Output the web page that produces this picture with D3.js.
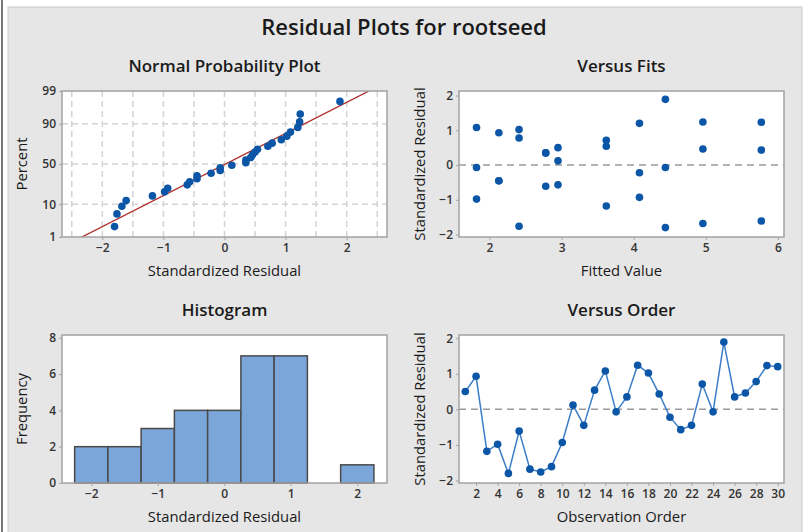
<!DOCTYPE html>
<html>
<head>
<meta charset="utf-8">
<script src="https://cdn.jsdelivr.net/npm/d3@7"></script>
<style>
html,body{margin:0;padding:0;background:#fff;}
svg{display:block;}
text{font-family:"Open Sans","Noto Sans",sans-serif;}
</style>
</head>
<body>
<svg id="chart" width="806" height="532"></svg>
<script>
// ---------------- data ----------------
const mainTitle = "Residual Plots for rootseed";
const panelTitles = ["Normal Probability Plot", "Versus Fits", "Histogram", "Versus Order"];
// standardized residuals, in observation order 1..30
const residuals = [0.50, 0.93, -1.18, -0.98, -1.80, -0.61, -1.68, -1.76, -1.61, -0.93,
                   0.12, -0.45, 0.54, 1.08, -0.07, 0.35, 1.24, 1.02, 0.43, -0.22,
                   -0.57, -0.45, 0.71, -0.07, 1.89, 0.35, 0.46, 0.78, 1.23, 1.20];
// fitted values, in observation order 1..30
const fitted = [2.95, 2.13, 3.62, 1.82, 4.44, 2.78, 4.96, 2.41, 5.77, 4.08,
                2.95, 2.13, 3.62, 1.82, 1.82, 2.78, 4.96, 2.41, 5.77, 4.08,
                2.95, 2.13, 3.62, 4.44, 4.44, 2.78, 4.96, 2.41, 5.77, 4.08];
const percentTicks = [1, 10, 50, 90, 99];
const percentGrid = [10, 50, 90];
const normXTicks = [-2, -1, 0, 1, 2];
const normXGrid = [-2.5, -2, -1.5, -1, -0.5, 0, 0.5, 1, 1.5, 2, 2.5];
const fitsXTicks = [2, 3, 4, 5, 6];
const residTicks = [-2, -1, 0, 1, 2];
const histThresholds = [-2.25, -1.75, -1.25, -0.75, -0.25, 0.25, 0.75, 1.25, 1.75, 2.25];
const histXTicks = [-2, -1, 0, 1, 2];
const freqTicks = [0, 2, 4, 6, 8];
const orderTicks = [2, 4, 6, 8, 10, 12, 14, 16, 18, 20, 22, 24, 26, 28, 30];

// --------------- helpers ---------------
function probit(p) {
  const a=[-3.969683028665376e+01,2.209460984245205e+02,-2.759285104469687e+02,1.383577518672690e+02,-3.066479806614716e+01,2.506628277459239e+00];
  const b=[-5.447609879822406e+01,1.615858368580409e+02,-1.556989798598866e+02,6.680131188771972e+01,-1.328068155288572e+01];
  const c=[-7.784894002430293e-03,-3.223964580411365e-01,-2.400758277161838e+00,-2.549671010229034e+00,4.374664141464968e+00,2.938163982698783e+00];
  const d=[7.784695709041462e-03,3.224671290700398e-01,2.445134137142996e+00,3.754408661907416e+00];
  const pl=0.02425, ph=1-pl; let q,r;
  if (p<pl){ q=Math.sqrt(-2*Math.log(p)); return (((((c[0]*q+c[1])*q+c[2])*q+c[3])*q+c[4])*q+c[5])/((((d[0]*q+d[1])*q+d[2])*q+d[3])*q+1); }
  if (p>ph){ q=Math.sqrt(-2*Math.log(1-p)); return -(((((c[0]*q+c[1])*q+c[2])*q+c[3])*q+c[4])*q+c[5])/((((d[0]*q+d[1])*q+d[2])*q+d[3])*q+1); }
  q=p-0.5; r=q*q;
  return (((((a[0]*r+a[1])*r+a[2])*r+a[3])*r+a[4])*r+a[5])*q/(((((b[0]*r+b[1])*r+b[2])*r+b[3])*r+b[4])*r+1);
}

const svg = d3.select("#chart");
const BG = "#e6e6e6", FRAME = "#a3a3a3", TICKTXT = "#333333", TITLE = "#1a1a1a";
const PT = "#0b56a6", LINE = "#3a7cc8", REF = "#9a9a9a", GRID = "#d4d4d4";

// background panel + borders
svg.append("rect").attr("x", 0).attr("y", 0).attr("width", 806).attr("height", 532).attr("fill", "#fff");
svg.append("rect").attr("x", 8).attr("y", 7).attr("width", 794).attr("height", 530)
   .attr("fill", BG).attr("stroke", "#c9c9c9").attr("stroke-width", 1);
svg.append("line").attr("x1", 2).attr("x2", 2).attr("y1", 0).attr("y2", 532)
   .attr("stroke", "#4a4a4a").attr("stroke-width", 1.5);

svg.append("text").attr("x", 404).attr("y", 35).attr("text-anchor", "middle")
   .attr("font-size", 22).attr("font-weight", 600).attr("fill", TITLE).text(mainTitle);

const boxes = [
  {x0: 62, x1: 387, y0: 91, y1: 237},
  {x0: 459, x1: 784, y0: 91, y1: 237},
  {x0: 62, x1: 387, y0: 335, y1: 483},
  {x0: 459, x1: 784, y0: 335, y1: 483}
];

function setupPanel(i, xLabel, yLabel) {
  const b = boxes[i];
  const g = svg.append("g");
  g.append("rect").attr("x", b.x0).attr("y", b.y0).attr("width", b.x1 - b.x0).attr("height", b.y1 - b.y0)
    .attr("fill", "#fff");
  g.append("text").attr("x", (b.x0 + b.x1) / 2).attr("y", b.y0 - 19).attr("text-anchor", "middle")
    .attr("font-size", 17).attr("font-weight", 600).attr("fill", TITLE).text(panelTitles[i]);
  g.append("text").attr("x", (b.x0 + b.x1) / 2).attr("y", b.y1 + 39).attr("text-anchor", "middle")
    .attr("font-size", 14.8).attr("fill", TITLE).text(xLabel);
  g.append("text").attr("transform", `translate(${b.x0 - (i % 2 === 0 ? 35 : 34)},${(b.y0 + b.y1) / 2}) rotate(-90)`)
    .attr("text-anchor", "middle").attr("font-size", 14.8).attr("fill", TITLE).text(yLabel);
  return g;
}

function styleAxis(sel) {
  sel.select(".domain").remove();
  sel.selectAll(".tick line").attr("stroke", FRAME);
  sel.selectAll(".tick text").attr("font-size", 12).attr("font-weight", 600).attr("fill", TICKTXT)
     .attr("font-family", '"Open Sans","Noto Sans",sans-serif');
}

function frame(g, i) {
  const b = boxes[i];
  g.append("rect").attr("x", b.x0).attr("y", b.y0).attr("width", b.x1 - b.x0).attr("height", b.y1 - b.y0)
    .attr("fill", "none").attr("stroke", FRAME).attr("stroke-width", 1.5);
}

// ------------- Panel 1: Normal probability plot -------------
{
  const b = boxes[0];
  const g = setupPanel(0, "Standardized Residual", "Percent");
  const x = d3.scaleLinear().domain([-2.66, 2.66]).range([b.x0, b.x1]);
  const zMax = probit(0.99);
  const y = d3.scaleLinear().domain([-zMax, zMax]).range([b.y1, b.y0]);
  const clipId = "clipN";
  svg.append("clipPath").attr("id", clipId).append("rect")
     .attr("x", b.x0).attr("y", b.y0).attr("width", b.x1 - b.x0).attr("height", b.y1 - b.y0);

  g.selectAll(".vg").data(normXGrid).join("line")
    .attr("x1", d => x(d)).attr("x2", d => x(d)).attr("y1", b.y0).attr("y2", b.y1)
    .attr("stroke", GRID).attr("stroke-width", 1.5).attr("stroke-dasharray", "6,4");
  g.selectAll(".hg").data(percentGrid).join("line")
    .attr("x1", b.x0).attr("x2", b.x1).attr("y1", d => y(probit(d / 100))).attr("y2", d => y(probit(d / 100)))
    .attr("stroke", GRID).attr("stroke-width", 1.5).attr("stroke-dasharray", "6,4");

  const n = residuals.length;
  const mean = d3.mean(residuals), sd = d3.deviation(residuals);
  const zs = [-zMax - 0.05, zMax + 0.05];
  g.append("line").attr("clip-path", `url(#${clipId})`)
    .attr("x1", x(mean + zs[0] * sd)).attr("y1", y(zs[0]))
    .attr("x2", x(mean + zs[1] * sd)).attr("y2", y(zs[1]))
    .attr("stroke", "#b0302c").attr("stroke-width", 1.3);

  const sorted = residuals.slice().sort(d3.ascending);
  g.selectAll(".pt").data(sorted).join("circle")
    .attr("cx", d => x(d)).attr("cy", (d, i) => y(probit((i + 1 - 0.3) / (n + 0.4))))
    .attr("r", 3.8).attr("fill", PT);

  frame(g, 0);
  g.append("g").attr("transform", `translate(0,${b.y1})`)
    .call(d3.axisBottom(x).tickValues(normXTicks).tickSize(3).tickPadding(3).tickFormat(d3.format("d")))
    .call(styleAxis);
  g.append("g").attr("transform", `translate(${b.x0},0)`)
    .call(d3.axisLeft(y).tickValues(percentTicks.map(p => probit(p / 100))).tickSize(3).tickPadding(3)
      .tickFormat((d, i) => percentTicks[i]))
    .call(styleAxis);
}

// ------------- Panel 2: Versus fits -------------
{
  const b = boxes[1];
  const g = setupPanel(1, "Fitted Value", "Standardized Residual");
  const x = d3.scaleLinear().domain([1.577, 6.085]).range([b.x0, b.x1]);
  const y = d3.scaleLinear().domain([-2.07, 2.13]).range([b.y1, b.y0]);
  g.append("line").attr("x1", b.x0).attr("x2", b.x1).attr("y1", y(0)).attr("y2", y(0))
    .attr("stroke", REF).attr("stroke-width", 1.5).attr("stroke-dasharray", "7,5");
  g.selectAll(".pt").data(residuals).join("circle")
    .attr("cx", (d, i) => x(fitted[i])).attr("cy", d => y(d)).attr("r", 3.8).attr("fill", PT);
  frame(g, 1);
  g.append("g").attr("transform", `translate(0,${b.y1})`)
    .call(d3.axisBottom(x).tickValues(fitsXTicks).tickSize(3).tickPadding(3).tickFormat(d3.format("d")))
    .call(styleAxis);
  g.append("g").attr("transform", `translate(${b.x0},0)`)
    .call(d3.axisLeft(y).tickValues(residTicks).tickSize(3).tickPadding(3).tickFormat(d3.format("d")))
    .call(styleAxis);
}

// ------------- Panel 3: Histogram -------------
{
  const b = boxes[2];
  const g = setupPanel(2, "Standardized Residual", "Frequency");
  const x = d3.scaleLinear().domain([-2.44, 2.447]).range([b.x0, b.x1]);
  const y = d3.scaleLinear().domain([0, 8.15]).range([b.y1, b.y0]);
  const bins = d3.bin().domain([histThresholds[0], histThresholds[histThresholds.length - 1]])
    .thresholds(histThresholds.slice(1, -1))(residuals);
  g.selectAll(".bar").data(bins.filter(d => d.length > 0)).join("rect")
    .attr("x", d => x(d.x0)).attr("width", d => x(d.x1) - x(d.x0))
    .attr("y", d => y(d.length)).attr("height", d => y(0) - y(d.length))
    .attr("fill", "#7ba6d9").attr("stroke", "#4a4a4a").attr("stroke-width", 1.5);
  frame(g, 2);
  g.append("g").attr("transform", `translate(0,${b.y1})`)
    .call(d3.axisBottom(x).tickValues(histXTicks).tickSize(3).tickPadding(3).tickFormat(d3.format("d")))
    .call(styleAxis);
  g.append("g").attr("transform", `translate(${b.x0},0)`)
    .call(d3.axisLeft(y).tickValues(freqTicks).tickSize(3).tickPadding(3).tickFormat(d3.format("d")))
    .call(styleAxis);
}

// ------------- Panel 4: Versus order -------------
{
  const b = boxes[3];
  const g = setupPanel(3, "Observation Order", "Standardized Residual");
  const x = d3.scaleLinear().domain([0.415, 30.585]).range([b.x0, b.x1]);
  const y = d3.scaleLinear().domain([-2.07, 2.09]).range([b.y1, b.y0]);
  g.append("line").attr("x1", b.x0).attr("x2", b.x1).attr("y1", y(0)).attr("y2", y(0))
    .attr("stroke", REF).attr("stroke-width", 1.5).attr("stroke-dasharray", "7,5");
  const line = d3.line().x((d, i) => x(i + 1)).y(d => y(d));
  g.append("path").datum(residuals).attr("d", line).attr("fill", "none")
    .attr("stroke", LINE).attr("stroke-width", 1.5);
  g.selectAll(".pt").data(residuals).join("circle")
    .attr("cx", (d, i) => x(i + 1)).attr("cy", d => y(d)).attr("r", 3.8).attr("fill", PT);
  frame(g, 3);
  g.append("g").attr("transform", `translate(0,${b.y1})`)
    .call(d3.axisBottom(x).tickValues(orderTicks).tickSize(3).tickPadding(3).tickFormat(d3.format("d")))
    .call(styleAxis);
  g.append("g").attr("transform", `translate(${b.x0},0)`)
    .call(d3.axisLeft(y).tickValues(residTicks).tickSize(3).tickPadding(3).tickFormat(d3.format("d")))
    .call(styleAxis);
}
</script>
</body>
</html>
